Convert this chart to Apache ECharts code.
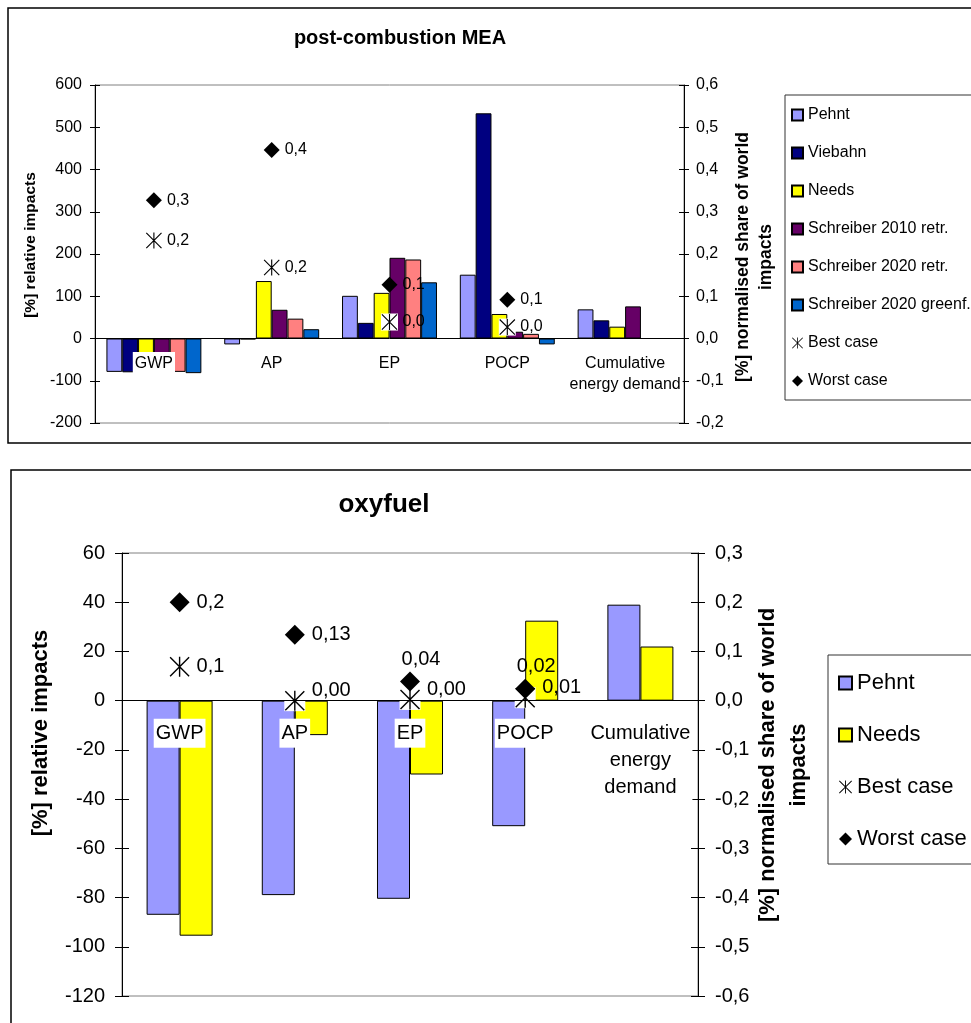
<!DOCTYPE html>
<html>
<head>
<meta charset="utf-8">
<script src="https://cdn.jsdelivr.net/npm/echarts@6/dist/echarts.min.js"></script>
<style>
html,body{margin:0;padding:0;background:#fff;}
#chart{width:971px;height:1023px;}
</style>
</head>
<body>
<div id="chart"></div>
<script>
// ---------- data ----------
const categoriesTop = ['GWP', 'AP', 'EP', 'POCP', 'Cumulative\nenergy demand'];
const categoriesBottom = ['GWP', 'AP', 'EP', 'POCP', 'Cumulative\nenergy\ndemand'];

// post-combustion MEA, [%] relative impacts
const meaPehnt = [-79, -14, 101, 151, 69];
const meaViebahn = [-80, -2, 37, 533, 43];
const meaNeeds = [-80, 136, 108, 58, 28];
const meaSchreiber2010retr = [-80, 68, 191, 16, 76];
const meaSchreiber2020retr = [-79, 47, 187, 11, null];
const meaSchreiber2020greenf = [-82, 22, 133, -14, null];
// normalised share of world impacts
const meaBest = [0.232, 0.168, 0.039, 0.027];
const meaWorst = [0.327, 0.446, 0.127, 0.092];

// oxyfuel
const oxyPehnt = [-87, -79, -80.5, -51, 39];
const oxyNeeds = [-95.5, -14, -30, 32.5, 22];
const oxyBest = [0.069, 0.0, 0.0025, 0.006];
const oxyWorst = [0.2, 0.134, 0.039, 0.024];
const oxyLabelDecimals = [1, 2, 2, 2];

const topLeftTicks = {min: -200, max: 600, interval: 100};
const topRightTicks = {min: -0.2, max: 0.6, interval: 0.1};
const botLeftTicks = {min: -120, max: 60, interval: 20};
const botRightTicks = {min: -0.6, max: 0.3, interval: 0.1};

// ---------- styling ----------
const FONT = '"Liberation Sans", Arial, Helvetica, sans-serif';
const COLORS = {
  'Pehnt': '#9999FF',
  'Viebahn': '#000080',
  'Needs': '#FFFF00',
  'Schreiber 2010 retr.': '#660066',
  'Schreiber 2020 retr.': '#FF8080',
  'Schreiber 2020 greenf.': '#0066CC'
};
const STAR = 'path://M9.3,0L10.7,0L10.7,20L9.3,20Z M0,1L1,0L20,19L19,20Z M19,0L20,1L1,20L0,19Z';
const comma = (v, d) => Number(v).toFixed(d).replace('.', ',');

const GRID_TOP = {left: 95, top: 85, width: 589, height: 338};
const GRID_BOT = {left: 122, top: 553, width: 576, height: 443};
// category axis sits on the zero line of the left value axis
const zeroOffset = (t, h) => -((0 - t.min) / (t.max - t.min)) * h;

function catAxis(gridIndex, cats, fontSize, lineHeight, margin, tickLen, offset, main) {
  if (main) {
    return {
      type: 'category', gridIndex, data: cats, position: 'bottom', offset,
      axisLine: {onZero: false, lineStyle: {color: '#000', width: 1}},
      axisTick: {length: tickLen, lineStyle: {color: '#000'}},
      axisLabel: {interval: 0, fontSize, lineHeight, margin, color: '#000', fontFamily: FONT,
        backgroundColor: '#fff', padding: [1, 2]},
      splitLine: {show: false}, z: 5
    };
  }
  return {
    type: 'category', gridIndex, data: cats, position: 'bottom', offset,
    axisLine: {show: false, onZero: false},
    axisTick: {inside: true, length: tickLen, lineStyle: {color: '#000'}},
    axisLabel: {show: false}, splitLine: {show: false}
  };
}
function valAxis(gridIndex, position, t, fontSize, margin, tickLen, fmt, main) {
  if (main) {
    return {
      type: 'value', gridIndex, position, min: t.min, max: t.max, interval: t.interval,
      axisLine: {show: true, onZero: false, lineStyle: {color: '#000', width: 1}},
      axisTick: {show: true, length: tickLen, lineStyle: {color: '#000'}},
      axisLabel: {fontSize, margin, color: '#000', fontFamily: FONT, formatter: fmt},
      splitLine: {show: false}
    };
  }
  return {
    type: 'value', gridIndex, position, min: t.min, max: t.max, interval: t.interval,
    axisLine: {show: false, onZero: false},
    axisTick: {show: true, inside: true, length: tickLen, lineStyle: {color: '#000'}},
    axisLabel: {show: false}, splitLine: {show: false}
  };
}
function bar(name, data, xi, yi, extra) {
  return Object.assign({
    type: 'bar', name, data, xAxisIndex: xi, yAxisIndex: yi,
    itemStyle: {color: COLORS[name], borderColor: '#000', borderWidth: 1},
    barGap: 0
  }, extra || {});
}
const legendItem = n => (COLORS[n] ? {name: n, icon: 'rect'} : {name: n});

const fmtInt = v => String(v);
const fmt1 = v => comma(v, 1);
const offTop = zeroOffset(topLeftTicks, GRID_TOP.height);
const offBot = zeroOffset(botLeftTicks, GRID_BOT.height);

const option = {
  backgroundColor: '#fff',
  animation: false,
  textStyle: {fontFamily: FONT, color: '#000'},
  grid: [
    Object.assign({show: true, borderColor: '#808080', borderWidth: 1, containLabel: false, outerBoundsMode: 'none'}, GRID_TOP),
    Object.assign({show: true, borderColor: '#808080', borderWidth: 1, containLabel: false, outerBoundsMode: 'none'}, GRID_BOT)
  ],
  xAxis: [
    catAxis(0, categoriesTop, 16, 21, 13.5, 5, offTop, true),
    catAxis(0, categoriesTop, 16, 21, 13.5, 5, offTop, false),
    catAxis(1, categoriesBottom, 20, 27, 18, 7, offBot, true),
    catAxis(1, categoriesBottom, 20, 27, 18, 7, offBot, false)
  ],
  yAxis: [
    valAxis(0, 'left', topLeftTicks, 16, 13, 5, fmtInt, true),
    valAxis(0, 'left', topLeftTicks, 16, 13, 5, fmtInt, false),
    valAxis(0, 'right', topRightTicks, 16, 12, 5, fmt1, true),
    valAxis(0, 'right', topRightTicks, 16, 12, 5, fmt1, false),
    valAxis(1, 'left', botLeftTicks, 20, 17, 7, fmtInt, true),
    valAxis(1, 'left', botLeftTicks, 20, 17, 7, fmtInt, false),
    valAxis(1, 'right', botRightTicks, 20, 17, 7, fmt1, true),
    valAxis(1, 'right', botRightTicks, 20, 17, 7, fmt1, false)
  ],
  legend: [
    {
      orient: 'vertical', left: 785, top: 95,
      padding: [12, 60, 11, 6],
      itemWidth: 11, itemHeight: 11, itemGap: 22,
      borderColor: '#333', borderWidth: 1, backgroundColor: '#fff',
      textStyle: {fontSize: 16, lineHeight: 16, color: '#000', fontFamily: FONT},
      data: ['Pehnt', 'Viebahn', 'Needs', 'Schreiber 2010 retr.', 'Schreiber 2020 retr.',
             'Schreiber 2020 greenf.', 'Best case', 'Worst case'].map(legendItem)
    },
    {
      orient: 'vertical', left: 828, top: 655,
      padding: [17, 60, 14, 10],
      itemWidth: 13, itemHeight: 13, itemGap: 30,
      borderColor: '#333', borderWidth: 1, backgroundColor: '#fff',
      textStyle: {fontSize: 22, lineHeight: 22, color: '#000', fontFamily: FONT},
      data: ['Pehnt', 'Needs', 'Best case', 'Worst case'].map(legendItem)
    }
  ],
  series: [
    // top chart bars
    bar('Pehnt', meaPehnt, 0, 0, {barCategoryGap: '19.4%'}),
    bar('Viebahn', meaViebahn, 0, 0),
    bar('Needs', meaNeeds, 0, 0),
    bar('Schreiber 2010 retr.', meaSchreiber2010retr, 0, 0),
    bar('Schreiber 2020 retr.', meaSchreiber2020retr, 0, 0),
    bar('Schreiber 2020 greenf.', meaSchreiber2020greenf, 0, 0),
    // top markers
    {type: 'scatter', name: 'best-bg-top', data: meaBest, xAxisIndex: 0, yAxisIndex: 2,
     symbol: 'rect', symbolSize: 17, itemStyle: {color: '#fff', opacity: 1}, silent: true},
    {type: 'scatter', name: 'Best case', data: meaBest, xAxisIndex: 0, yAxisIndex: 2,
     symbol: STAR, symbolSize: 16, itemStyle: {color: '#000', opacity: 1},
     label: {show: true, position: 'right', distance: 5, fontSize: 16, color: '#000', fontFamily: FONT,
       formatter: p => comma(p.value, 1)}},
    {type: 'scatter', name: 'Worst case', data: meaWorst, xAxisIndex: 0, yAxisIndex: 2,
     symbol: 'diamond', symbolSize: 16, itemStyle: {color: '#000', opacity: 1},
     label: {show: true, position: 'right', distance: 5, fontSize: 16, color: '#000', fontFamily: FONT,
       formatter: p => comma(p.value, 1)}},
    // bottom chart bars
    bar('Pehnt', oxyPehnt, 2, 4, {barCategoryGap: '42.7%'}),
    bar('Needs', oxyNeeds, 2, 4),
    // bottom markers
    {type: 'scatter', name: 'best-bg-bot', data: oxyBest, xAxisIndex: 2, yAxisIndex: 6,
     symbol: 'rect', symbolSize: 21, itemStyle: {color: '#fff', opacity: 1}, silent: true},
    {type: 'scatter', name: 'Best case', xAxisIndex: 2, yAxisIndex: 6,
     data: oxyBest.map((v, i) => i === 0 ? v : {value: v, label: {offset: [0, -10]}}),
     symbol: STAR, symbolSize: 20, itemStyle: {color: '#000', opacity: 1},
     label: {show: true, position: 'right', distance: 7, fontSize: 20, color: '#000', fontFamily: FONT,
       formatter: p => comma(p.value, oxyLabelDecimals[p.dataIndex])}},
    {type: 'scatter', name: 'Worst case', xAxisIndex: 2, yAxisIndex: 6,
     data: oxyWorst.map((v, i) => i < 2 ? v : {value: v, label: {position: 'top', distance: 2, offset: [11, 0]}}),
     symbol: 'diamond', symbolSize: 20, itemStyle: {color: '#000', opacity: 1},
     label: {show: true, position: 'right', distance: 7, fontSize: 20, color: '#000', fontFamily: FONT,
       formatter: p => comma(p.value, oxyLabelDecimals[p.dataIndex])}}
  ],
  graphic: [
    {type: 'rect', silent: true, z: -10, shape: {x: 8, y: 8, width: 1000, height: 435},
     style: {fill: 'none', stroke: '#000', lineWidth: 1.5}},
    {type: 'rect', silent: true, z: -10, shape: {x: 11, y: 470, width: 1000, height: 600},
     style: {fill: 'none', stroke: '#000', lineWidth: 1.5}},
    {type: 'text', silent: true, x: 400, y: 38,
     style: {text: 'post-combustion MEA', font: 'bold 20px ' + FONT, fill: '#000',
       textAlign: 'center', textVerticalAlign: 'middle', align: 'center', verticalAlign: 'middle'}},
    {type: 'text', silent: true, x: 384, y: 505,
     style: {text: 'oxyfuel', font: 'bold 26px ' + FONT, fill: '#000',
       textAlign: 'center', textVerticalAlign: 'middle', align: 'center', verticalAlign: 'middle'}},
    {type: 'text', silent: true, x: 31, y: 245, rotation: Math.PI / 2,
     style: {text: '[%] relative impacts', font: 'bold 15.5px ' + FONT, fill: '#000',
       textAlign: 'center', textVerticalAlign: 'middle', align: 'center', verticalAlign: 'middle'}},
    {type: 'text', silent: true, x: 755, y: 257, rotation: Math.PI / 2,
     style: {text: '[%] normalised share of world\nimpacts', font: 'bold 17.5px ' + FONT, fill: '#000',
       lineHeight: 23, textAlign: 'center', textVerticalAlign: 'middle', align: 'center', verticalAlign: 'middle'}},
    {type: 'text', silent: true, x: 41, y: 733, rotation: Math.PI / 2,
     style: {text: '[%] relative impacts', font: 'bold 22px ' + FONT, fill: '#000',
       textAlign: 'center', textVerticalAlign: 'middle', align: 'center', verticalAlign: 'middle'}},
    {type: 'text', silent: true, x: 783, y: 765, rotation: Math.PI / 2,
     style: {text: '[%] normalised share of world\nimpacts', font: 'bold 22px ' + FONT, fill: '#000',
       lineHeight: 31, textAlign: 'center', textVerticalAlign: 'middle', align: 'center', verticalAlign: 'middle'}}
  ]
};

const chart = echarts.init(document.getElementById('chart'), null, {renderer: 'canvas'});
chart.setOption(option);
</script>
</body>
</html>
